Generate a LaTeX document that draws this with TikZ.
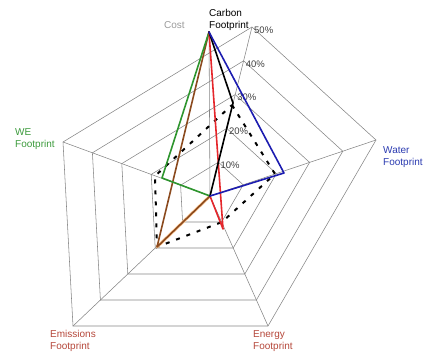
\documentclass[tikz,border=0pt]{standalone}
\usepackage{fontspec}
\setmainfont{Liberation Sans}
\usetikzlibrary{calc}
\definecolor{labgreen}{HTML}{3C9A3C}
\definecolor{labblue}{HTML}{2A3AB0}
\definecolor{labred}{HTML}{B5473A}
\definecolor{costgrey}{HTML}{9A9A9A}
\definecolor{sgreen}{HTML}{2E952E}
\definecolor{sblue}{HTML}{1C1CB0}
\definecolor{sred}{HTML}{E5262B}
\definecolor{sbrown}{HTML}{8B4A1E}
\definecolor{gridgrey}{HTML}{858585}
\begin{document}
\begin{tikzpicture}[x=1pt,y=-1pt,
  gridline/.style={draw=gridgrey, line width=0.55pt, line join=miter},
  series/.style={line width=1.6pt, line join=round, line cap=round},
  lab/.style={font=\fontsize{10}{12.5}\selectfont, align=left, inner sep=0pt, anchor=north west},
  pct/.style={font=\fontsize{9.5}{10}\selectfont, text=black!75, inner sep=0pt, anchor=west}]
\useasboundingbox (0,0) rectangle (433,354);
% axes
\coordinate (O) at (210,196);
\coordinate (T) at (252,27);
\coordinate (R) at (376,140);
\coordinate (BR) at (268,326);
\coordinate (BL) at (73,326);
\coordinate (L) at (63,142);
\coordinate (A) at (209,32);
% grid rings
\foreach \k in {1,...,5} {
  \draw[gridline] ($(O)!\k/5!(T)$) -- ($(O)!\k/5!(R)$) -- ($(O)!\k/5!(BR)$)
     -- ($(O)!\k/5!(BL)$) -- ($(O)!\k/5!(L)$) -- cycle;
}
\foreach \v in {T,R,BR,BL,L} \draw[gridline] (O) -- (\v);
\draw[gridline] (O) -- (A);
% percentage labels
\foreach \k/\p in {1/10,2/20,3/30,4/40,5/50}
  \node[pct] (pct\k) at ($(O)!\k/5!(T)+(2,3)$) {\p\%};
% data points
\coordinate (G) at (162,178);
\coordinate (W) at (284,173);
\coordinate (E) at (223,229);
\coordinate (M) at (157,247);
\coordinate (K) at (233,103);
\coordinate (D1) at (232,105);
\coordinate (D2) at (275,174);
\coordinate (D3) at (222,222);
\coordinate (D4) at (157,247);
\coordinate (D5) at (155,176);
% dashed series
\draw[line width=2pt, dash pattern=on 4pt off 7pt] (D1) -- (D2) -- (D3) -- (D4) -- (D5) -- cycle;
% series
\draw[series, draw=orange!40, line width=3pt] (M) -- (O);
\draw[series, sbrown] (A) -- (M) -- (O);
\draw[series, sgreen] (A) -- (G) -- (O);
\draw[series, sred] (A) -- (E) -- (O);
\draw[series, black] (A) -- (K) -- (O);
\draw[series, sblue] (A) -- (W) -- (O);
% axis labels
\node[lab, text=costgrey] (cost) at (164,21) {Cost};
\node[lab, text=black] (carbon) at (209,9) {Carbon\\Footprint};
\node[lab, text=labgreen] (we) at (15,128) {WE\\Footprint};
\node[lab, text=labblue] (water) at (383,146) {Water\\Footprint};
\node[lab, text=labred] (emis) at (50,330) {Emissions\\Footprint};
\node[lab, text=labred] (energy) at (253,330) {Energy\\Footprint};
\end{tikzpicture}
\end{document}
